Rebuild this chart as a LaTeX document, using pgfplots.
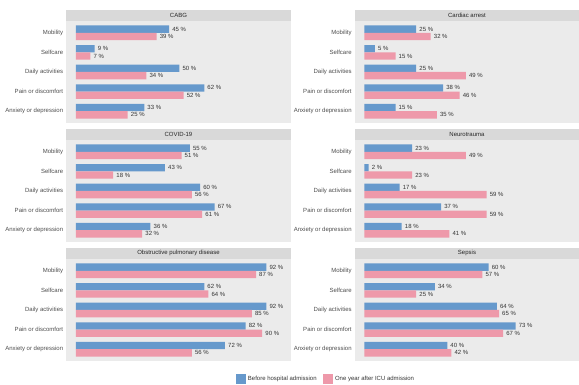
\documentclass[border=0pt]{standalone}
\usepackage{pgfplots}
\pgfplotsset{compat=1.18}
\usepackage{fontspec}
\setmainfont{Liberation Sans}
\definecolor{cblue}{RGB}{102,153,204}
\definecolor{cpink}{RGB}{238,153,170}
\definecolor{panelbg}{RGB}{235,235,235}
\definecolor{stripbg}{RGB}{217,217,217}
\definecolor{ticktext}{RGB}{77,77,77}
\newcommand{\sz}{\fontsize{6}{7}\selectfont}
\pgfplotsset{
  panel/.style={
    scale only axis, width=225pt, height=102pt,
    xmin=-4.83, xmax=103.9, ymin=0.4, ymax=5.6, y dir=reverse,
    axis line style={draw=none}, xtick=\empty,
    ytick={1,2,3,4,5},
    yticklabels={Mobility,Selfcare,Daily activities,Pain or discomfort,Anxiety or depression},
    major tick length=0pt,
    yticklabel style={font=\sz, text=ticktext, inner sep=0pt, xshift=-2.7pt},
    axis background/.style={fill=panelbg},
    xbar, bar width=0.375,
    point meta=x,
    /pgf/number format/assume math mode=true,
    nodes near coords={\pgfmathprintnumber{\pgfplotspointmeta}~\%},
    nodes near coords style={font=\sz, text=black!80, inner sep=0pt, xshift=3pt, anchor=west},
    every axis title/.style={at={(0.5,1)}, anchor=south, fill=stripbg, minimum width=225pt,
      minimum height=11pt, inner sep=0pt, font=\sz, text=black!85},
    clip=false,
  },
  before/.style={fill=cblue, draw=none, bar shift=-0.1875},
  after/.style={fill=cpink, draw=none, bar shift=0.1875},
  mylegend/.style={legend image code/.code={\fill[##1] (0pt,-5pt) rectangle (10pt,5pt);}},
}
\begin{document}
\begin{tikzpicture}
\path[use as bounding box] (0,0) rectangle (579pt,385pt);
% Row 1
\begin{axis}[panel, at={(66pt,364pt)}, anchor=north west, title={CABG}]
\addplot[before] coordinates {(45,1) (9,2) (50,3) (62,4) (33,5)};
\addplot[after] coordinates {(39,1) (7,2) (34,3) (52,4) (25,5)};
\end{axis}
\begin{axis}[panel, at={(354.5pt,364pt)}, anchor=north west, title={Cardiac arrest}]
\addplot[before] coordinates {(25,1) (5,2) (25,3) (38,4) (15,5)};
\addplot[after] coordinates {(32,1) (15,2) (49,3) (46,4) (35,5)};
\end{axis}
% Row 2
\begin{axis}[panel, at={(66pt,245pt)}, anchor=north west, title={COVID-19}]
\addplot[before] coordinates {(55,1) (43,2) (60,3) (67,4) (36,5)};
\addplot[after] coordinates {(51,1) (18,2) (56,3) (61,4) (32,5)};
\end{axis}
\begin{axis}[panel, at={(354.5pt,245pt)}, anchor=north west, title={Neurotrauma}]
\addplot[before] coordinates {(23,1) (2,2) (17,3) (37,4) (18,5)};
\addplot[after] coordinates {(49,1) (23,2) (59,3) (59,4) (41,5)};
\end{axis}
% Row 3
\begin{axis}[panel, at={(66pt,126pt)}, anchor=north west, title={Obstructive pulmonary disease},
  legend style={at={(1.1556,-0.181)}, anchor=center, draw=none, fill=none, font=\sz,
    text=black!80, legend columns=2, inner sep=0pt,
    /tikz/every even column/.append style={column sep=4pt},
    nodes={inner sep=2.2pt}}]
\addplot[before, mylegend] coordinates {(92,1) (62,2) (92,3) (82,4) (72,5)};
\addlegendentry{Before hospital admission}
\addplot[after, mylegend] coordinates {(87,1) (64,2) (85,3) (90,4) (56,5)};
\addlegendentry{One year after ICU admission}
\end{axis}
\begin{axis}[panel, at={(354.5pt,126pt)}, anchor=north west, title={Sepsis}]
\addplot[before] coordinates {(60,1) (34,2) (64,3) (73,4) (40,5)};
\addplot[after] coordinates {(57,1) (25,2) (65,3) (67,4) (42,5)};
\end{axis}
\end{tikzpicture}
\end{document}
